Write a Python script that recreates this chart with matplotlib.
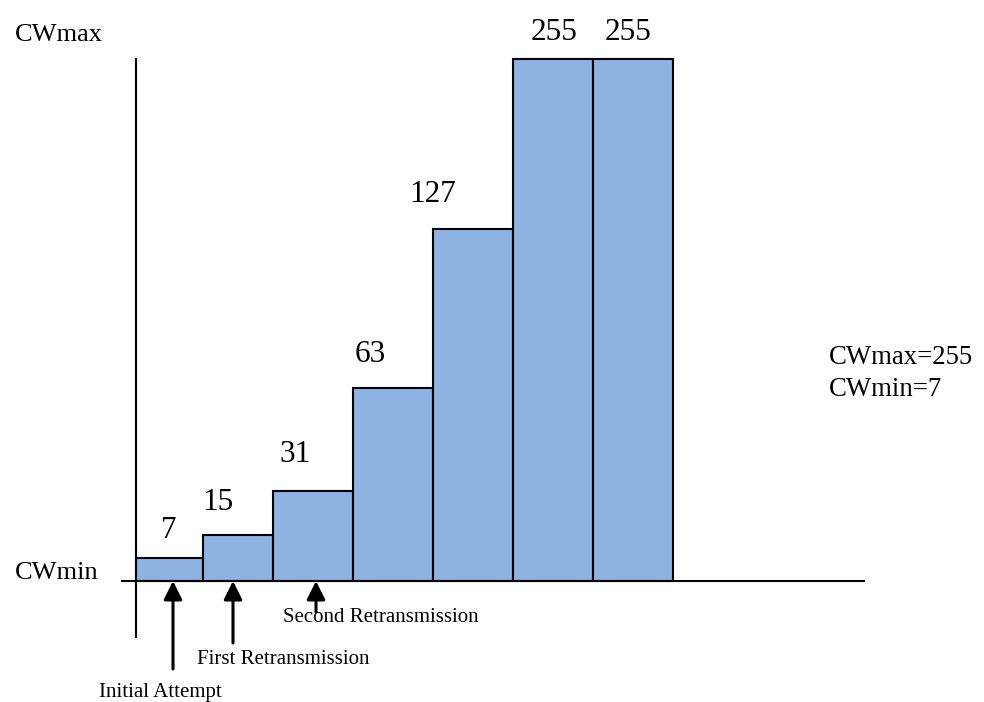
import matplotlib
matplotlib.use('Agg')
import matplotlib.pyplot as plt

plt.rcParams['font.family'] = ['Liberation Serif', 'DejaVu Serif']

# contention window per attempt (labels) and bar heights
cw_labels = ['7', '15', '31', '63', '127', '255', '255']
bar_heights = [23, 46, 90, 193, 352, 522, 522]
bar_lefts = [136, 203, 273, 353, 433, 513, 593]
bar_widths = [67, 70, 80, 80, 80, 80, 80]

# label offsets from bar left edge (x) and above bar top (y)
label_dx = [33, 15, 22, 17, 0, 41, 35]
label_dy = [28, 32, 36, 34, 34, 27, 27]

arrow_x = [173, 233, 316]
arrow_tail = [-88, -62, -31]
arrow_text = ['Initial Attempt', 'First Retransmission', 'Second Retransmission']
text_pos = [(160, -112), (283, -79), (381, -37)]

fig = plt.figure(figsize=(9.84, 7.02), dpi=100)
ax = fig.add_axes([0, 0, 1, 1])
ax.set_xlim(0, 984)
ax.set_ylim(-121, 581)
ax.axis('off')

ax.bar(bar_lefts, bar_heights, width=bar_widths, align='edge',
       color='#8DB3E2', edgecolor='black', linewidth=1.5, zorder=2)

# axes lines
ax.plot([136, 136], [-56, 522], color='black', lw=1.5, zorder=3)
ax.plot([122, 864], [0, 0], color='black', lw=1.5, zorder=3)

for l, h, lab, dx, dy in zip(bar_lefts, bar_heights, cw_labels, label_dx, label_dy):
    ax.text(l + dx, h + dy, lab, fontsize=22.5, ha='center', va='center')

for x, t, lab, (tx, ty) in zip(arrow_x, arrow_tail, arrow_text, text_pos):
    ax.annotate('', xy=(x, 0), xytext=(x, t),
                arrowprops=dict(arrowstyle='-|>', color='black', lw=2.2,
                                mutation_scale=28, shrinkA=0, shrinkB=0),
                zorder=4)
    ax.text(tx, ty, lab, fontsize=15, ha='center', va='center')

ax.text(15, 546, 'CWmax', fontsize=19, ha='left', va='center')
ax.text(15, 8, 'CWmin', fontsize=19, ha='left', va='center')
ax.text(829, 224, 'CWmax=255', fontsize=19.3, ha='left', va='center')
ax.text(829, 192, 'CWmin=7', fontsize=19.3, ha='left', va='center')

fig.savefig('out.png', dpi=100)
